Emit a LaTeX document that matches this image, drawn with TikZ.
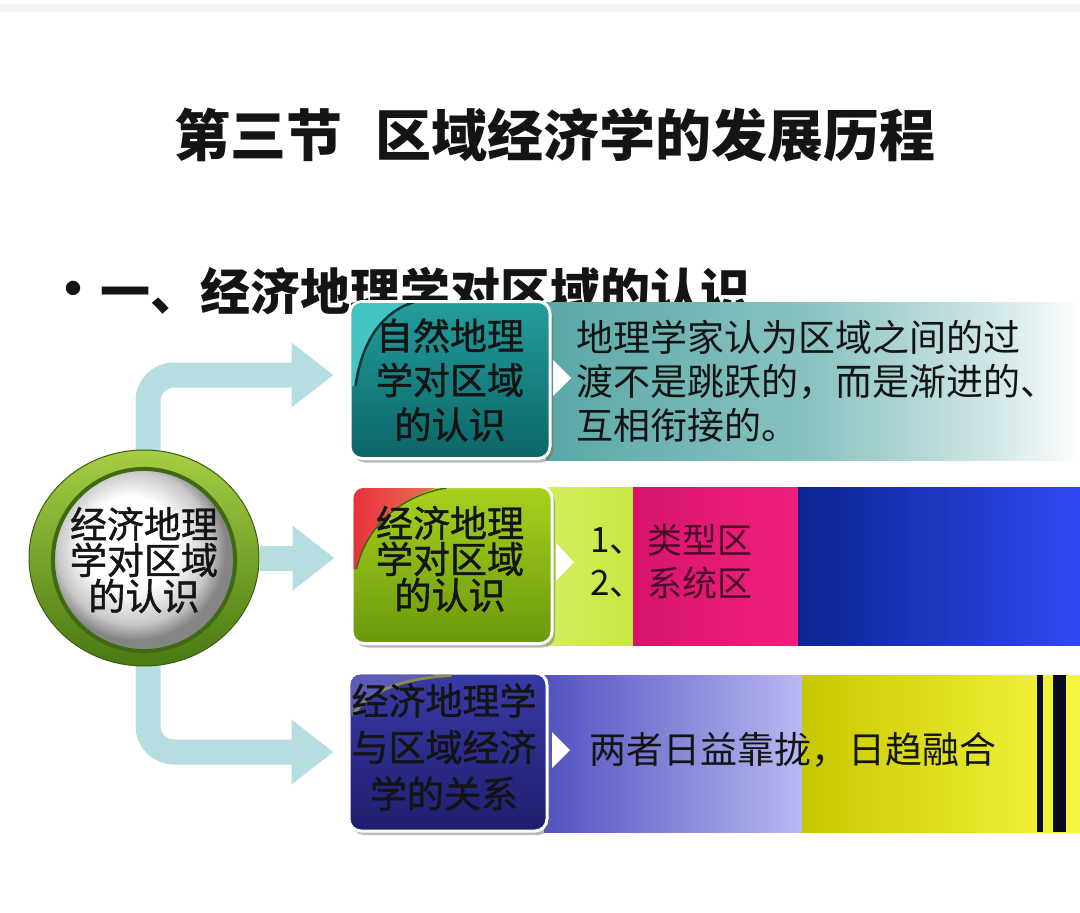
\documentclass[tikz,border=0pt]{standalone}
\usepackage{fontspec}
\newfontfamily\cjk{Noto Sans CJK SC}
\newfontfamily\cjkm[FakeBold=1.2]{Noto Sans CJK SC}
\usetikzlibrary{arrows.meta,shadows,shapes.geometric,calc}
\pgfdeclarelayer{back}
\pgfsetlayers{back,main}
\definecolor{stripgray}{HTML}{F4F4F4}
\definecolor{arrowc}{HTML}{B6DEE1}
\definecolor{ringtop}{HTML}{A6CE44}
\definecolor{ringbot}{HTML}{4A7812}
\definecolor{ringedge}{HTML}{3A5E0E}
\definecolor{ringin}{HTML}{3F6A12}
\definecolor{bAtop}{HTML}{239D9D}
\definecolor{bAbot}{HTML}{0C6566}
\definecolor{bBtop}{HTML}{A8D21E}
\definecolor{bBbot}{HTML}{6A980C}
\definecolor{bCtop}{HTML}{3A3AA6}
\definecolor{bCbot}{HTML}{1E1E6E}
\definecolor{tA}{HTML}{5AA8A6}
\definecolor{tB}{HTML}{8CC4C2}
\definecolor{tC}{HTML}{D4E8E8}
\definecolor{lgA}{HTML}{D2EE5E}
\definecolor{lgB}{HTML}{C6E842}
\definecolor{pkA}{HTML}{D8146A}
\definecolor{pkB}{HTML}{F0207E}
\definecolor{blA}{HTML}{0B2590}
\definecolor{blB}{HTML}{3048F2}
\definecolor{puA}{HTML}{5252C0}
\definecolor{puB}{HTML}{B8B8F2}
\definecolor{yeA}{HTML}{C8C800}
\definecolor{yeB}{HTML}{F6F640}
\definecolor{barc}{HTML}{0A0A20}
\definecolor{maroon}{HTML}{4A0828}
\definecolor{txt}{HTML}{141414}
\definecolor{glossA}{HTML}{45C4C4}
\definecolor{glossAline}{HTML}{0B3535}
\definecolor{glossBa}{HTML}{E8303C}
\definecolor{glossBb}{HTML}{E87858}
\definecolor{glossC}{HTML}{5C5CB8}
\definecolor{glossCline}{HTML}{8A8A50}
\pgfdeclareradialshading{spherebg}{\pgfpoint{-5bp}{6bp}}{color(0bp)=(white); color(13bp)=(white); color(21bp)=(black!22); color(25bp)=(black!48); color(50bp)=(black!48)}
\tikzset{
  conn/.style={draw=arrowc, line width=25pt, rounded corners=26pt,
    -{Triangle[length=42pt,width=62pt]}},
  ring/.style={ellipse, minimum width=230pt, minimum height=216pt,
    top color=ringtop, bottom color=ringbot, draw=ringedge, line width=1pt},
  spherenode/.style={circle, minimum size=176pt, inner sep=0pt,
    shading=spherebg, draw=ringin, line width=4pt, text=txt,
    font=\cjkm\fontsize{37}{36}\selectfont, align=center},
  box/.style={rectangle, rounded corners=12pt, draw=white, line width=3pt,
    minimum width=200pt, minimum height=157pt, inner sep=0pt,
    drop shadow={shadow xshift=3pt, shadow yshift=-4pt, opacity=0.45, fill=black!60}},
  blabel/.style={inner sep=0pt, align=center, text=txt,
    font=\cjkm\fontsize{37}{44.5}\selectfont},
  btext/.style={anchor=west, inner sep=0pt, align=left, text=txt,
    font=\cjk\fontsize{37}{44}\selectfont},
  pointer/.style={fill=white}
}
\begin{document}
\begin{tikzpicture}[x=1pt,y=-1pt]
\useasboundingbox (0,0) rectangle (1080,913);
\begin{pgfonlayer}{back}
  \fill[white] (0,0) rectangle (1080,913);
  \fill[stripgray] (0,4) rectangle (1080,12);
\end{pgfonlayer}

% title and bullet line
\node[font=\cjk\bfseries\fontsize{56}{60}\selectfont, text=txt] (title) at (555,135)
  {第三节\hspace{33pt}区域经济学的发展历程};
\node[font=\cjk\fontsize{16}{18}\selectfont, text=txt, inner sep=0pt] (dot) at (73,288) {●};
\node[anchor=west, inner sep=0pt, font=\cjk\bfseries\fontsize{50}{55}\selectfont, text=txt]
  (bullet) at (100,291) {一、经济地理学对区域的认识};

% central circle
\node[ring] (c) at (144,558) {};
\node[spherenode] (sph) at (144,560) {经济地理\\学对区域\\的认识};

% banners
\shade[left color=tA, right color=tB] (546,302) rectangle (821,460);
\shade[left color=tB, right color=tC] (820,302) rectangle (1001,460);
\shade[left color=tC, right color=white] (1000,302) rectangle (1080,460);

\shade[left color=lgA, right color=lgB] (546,487) rectangle (633,645);
\shade[left color=pkA, right color=pkB] (633,487) rectangle (798,645);
\shade[left color=blA, right color=blB] (798,487) rectangle (1080,645);

\shade[left color=puA, right color=puB] (544,675) rectangle (802,832);
\shade[left color=yeA, right color=yeB] (802,675) rectangle (1080,832);
\fill[barc] (1037,675) rectangle (1043,832);
\fill[barc] (1053,675) rectangle (1066,832);

% pointers
\fill[pointer] (553,360) -- (571,378) -- (553,396) -- cycle;
\fill[pointer] (556,543) -- (574,562) -- (556,581) -- cycle;
\fill[pointer] (552,732) -- (570,750) -- (552,768) -- cycle;

% boxes
\node[box, top color=bAtop, bottom color=bAbot] (b1) at (450,380) {};
\node[box, top color=bBtop, bottom color=bBbot] (b2) at (452,565) {};
\node[box, top color=bCtop, bottom color=bCbot, minimum width=198pt, minimum height=158pt] (b3) at (448,752) {};

% glosses
\begin{scope}
  \clip[rounded corners=10pt] ($(b1.north west)+(3,3)$) rectangle ($(b1.south east)+(-3,-3)$);
  \begin{scope}[shift={(b1.north west)}]
    \fill[glossA] (0,0) -- (66,0) .. controls (38,10) and (14,36) .. (7,86) -- (0,86) -- cycle;
    \draw[glossAline, line width=2.5pt] (66,2) .. controls (38,10) and (14,36) .. (7,86);
  \end{scope}
\end{scope}
\begin{scope}
  \clip[rounded corners=10pt] ($(b2.north west)+(3,3)$) rectangle ($(b2.south east)+(-3,-3)$);
  \begin{scope}[shift={(b2.north west)}]
    \shade[left color=glossBa, right color=glossBb] (0,0) -- (96,0) .. controls (52,10) and (16,40) .. (6,84) -- (0,84) -- cycle;
    \draw[ringin, line width=1.5pt] (96,3) .. controls (52,10) and (16,40) .. (6,84);
  \end{scope}
\end{scope}
\begin{scope}
  \clip[rounded corners=10pt] ($(b3.north west)+(3,3)$) rectangle ($(b3.south east)+(-3,-3)$);
  \begin{scope}[shift={(b3.north west)}]
    \fill[glossC] (0,0) -- (104,0) .. controls (58,6) and (18,20) .. (6,44) -- (0,44) -- cycle;
    \draw[glossCline, line width=3pt] (104,4) .. controls (58,6) and (18,20) .. (6,44);
  \end{scope}
\end{scope}

% box labels
\node[blabel] (l1) at (450,380) {自然地理\\学对区域\\的认识};
\node[blabel, font=\cjkm\fontsize{37}{36}\selectfont] (l2) at (450,559) {经济地理\\学对区域\\的认识};
\node[blabel, font=\cjkm\fontsize{37}{46.5}\selectfont] (l3) at (444,747) {经济地理学\\与区域经济\\学的关系};

% banner texts
\node[btext] (t1) at (576,381) {地理学家认为区域之间的过\\渡不是跳跃的，而是渐进的、\\互相衔接的。};
\node[btext, font=\cjk\fontsize{35}{43}\selectfont] (n12) at (590,562) {1、\\2、};
\node[btext, font=\cjk\fontsize{35}{43}\selectfont, text=maroon] (t2) at (647,562) {类型区\\系统区};
\node[btext] (t3) at (589,750) {两者日益靠拢，日趋融合};

% connectors
\begin{pgfonlayer}{back}
  \draw[conn] ($(c.north)+(4,15)$) |- ($(b1.west)+(-15,-5)$);
  \draw[conn] (c.east) -- ($(c.east -| b2.west)+(-16,0)$);
  \draw[conn] ($(c.south)+(4,-15)$) |- ($(b3.west)+(-14,0)$);
\end{pgfonlayer}
\end{tikzpicture}
\end{document}
